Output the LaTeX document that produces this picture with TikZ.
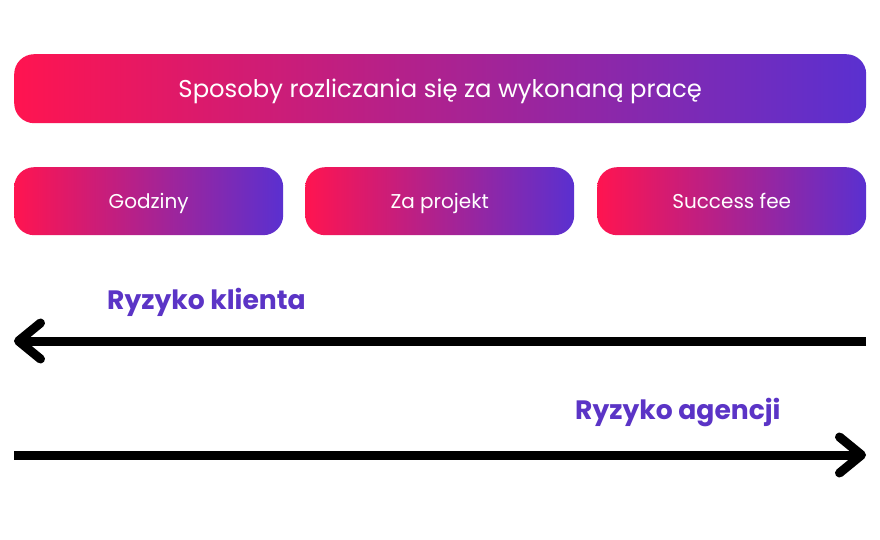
\documentclass[tikz,border=0pt]{standalone}
\usepackage{fontspec}
\setmainfont{Poppins}
\usetikzlibrary{arrows.meta}
\definecolor{pinkL}{HTML}{FF1450}
\definecolor{purpR}{HTML}{5A30D0}
\definecolor{lblpurple}{HTML}{5B34C6}
\tikzset{
  gradbox/.style={rounded corners=20pt, left color=pinkL, right color=purpR,
    draw=none, text=white, inner sep=0pt, text depth=0pt, anchor=north west},
  risklabel/.style={text=lblpurple, font=\bfseries\fontsize{26.6}{30}\selectfont, inner sep=0pt, anchor=west},
  riskarrow/.style={line width=9pt, -{Straight Barb[length=22pt,width=36pt,round]}},
}
\begin{document}
\begin{tikzpicture}[x=1pt,y=-1pt]
\useasboundingbox[fill=white] (0,0) rectangle (880,540);
\node[gradbox, minimum width=852pt, minimum height=69pt, font=\fontsize{24.3}{28}\selectfont] (top) at (14,54) {Sposoby rozliczania się za wykonaną pracę};
\node[gradbox, minimum width=269pt, minimum height=68pt, font=\fontsize{20}{24}\selectfont] (b1) at (14,167) {Godziny};
\node[gradbox, minimum width=269pt, minimum height=68pt, font=\fontsize{20}{24}\selectfont] (b2) at (305,167) {Za projekt};
\node[gradbox, minimum width=269pt, minimum height=68pt, font=\fontsize{20}{24}\selectfont] (b3) at (597,167) {Success fee};
\node[risklabel] (lk) at (107,302) {Ryzyko klienta};
\node[risklabel] (la) at (575,413) {Ryzyko agencji};
\coordinate (a1s) at (866,341);
\coordinate (a1e) at (14,341);
\coordinate (a2s) at (14,455);
\coordinate (a2e) at (866,455);
\draw[riskarrow] (a1s) -- (a1e);
\draw[riskarrow] (a2s) -- (a2e);
\end{tikzpicture}
\end{document}
